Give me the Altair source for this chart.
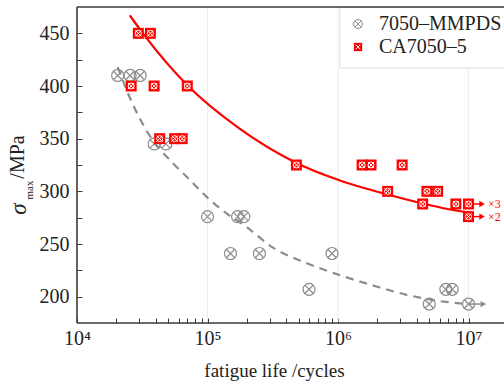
import altair as alt
import pandas as pd

# ---------------- data ----------------
gray_N = [2.05e4, 2.55e4, 3.05e4, 3.9e4, 4.8e4, 1.0e5, 1.5e5, 1.7e5, 1.9e5, 2.5e5,
          6.0e5, 9.0e5, 5.0e6, 6.7e6, 7.5e6, 1.0e7]
gray_S = [410, 410, 410, 345, 345, 276, 241, 276, 276, 241, 207, 241, 193, 207, 207, 193]

red_N = [2.95e4, 3.65e4, 2.6e4, 3.9e4, 7.0e4, 4.3e4, 5.6e4, 6.4e4, 4.8e5, 1.53e6,
         1.79e6, 3.1e6, 2.4e6, 4.8e6, 5.8e6, 4.45e6, 8.0e6, 1.0e7, 1.0e7]
red_S = [450, 450, 400, 400, 400, 350, 350, 350, 325, 325, 325, 325, 300, 300, 300,
         288, 288, 288, 276]

red_fit_N = [2.54e4, 3.2e4, 7.1e4, 1.74e5, 4.8e5, 1.0e6, 2.4e6, 7.1e6, 1.0e7]
red_fit_S = [467, 450, 400, 360, 327, 311, 297, 283, 280]

gray_fit_N = [2.05e4, 2.54e4, 3.6e4, 5.4e4, 7.3e4, 9.8e4, 1.3e5, 2.0e5, 3.13e5, 5.7e5,
              1.0e6, 2.06e6, 3.3e6, 6.7e6, 1.0e7]
gray_fit_S = [418, 389, 353, 327, 311, 295, 282, 266, 247, 232, 221, 209, 202, 195, 193]

runout_N = [1.0e7, 1.0e7]
runout_end_N = [1.27e7, 1.27e7]
runout_S = [288, 276]
runout_label = ["×3", "×2"]

gray_runout_N = [1.0e7]
gray_runout_end_N = [1.3e7]
gray_runout_S = [193]

series = ["7050–MMPDS", "CA7050–5"]

x_ticks = [v * 10 ** e for e in (4, 5, 6) for v in range(1, 10)] + [1e7]
x_tick_labels = {1e4: "10⁴", 1e5: "10⁵", 1e6: "10⁶", 1e7: "10⁷"}
y_ticks = [200, 225, 250, 275, 300, 325, 350, 375, 400, 425, 450]
decades = [1e5, 1e6, 1e7]

# ---------------- styling ----------------
W, H = 427, 316
FONT = "Liberation Serif"
RED = "#ff0000"
GRAY = "#8c8c8c"
AX = "#3a3a3a"
XPATH = "M-0.707,-0.707L0.707,0.707M-0.707,0.707L0.707,-0.707"
XPATH_S = "M-0.55,-0.55L0.55,0.55M-0.55,0.55L0.55,-0.55"

label_expr = " : ".join(
    f"datum.value == {int(k)} ? '{v}'" for k, v in x_tick_labels.items()
) + " : ''"

x_axis = alt.Axis(
    values=x_ticks, labelExpr=label_expr, domain=False, grid=False,
    tickSize=5, offset=-5, tickColor=AX, tickWidth=1,
    labelFont=FONT, labelFontSize=20, labelColor="#222", labelPadding=5,
    labelFlush=False, labelOverlap=False, labelBound=False,
    title="fatigue life /cycles", titleFont=FONT, titleFontSize=19,
    titleFontWeight="normal", titleColor="#222", titleX=197, titleY=58,
    titleBaseline="alphabetic", titleAnchor="middle",
)
y_axis = alt.Axis(
    values=y_ticks, labelExpr="datum.value % 50 == 0 ? datum.value : ''",
    domain=False, grid=False, tickSize=5, offset=-5, tickColor=AX, tickWidth=1,
    labelFont=FONT, labelFontSize=20, labelColor="#222", labelPadding=8,
    labelFlush=False, labelOverlap=False, title=None,
)

xs = alt.Scale(type="log", domain=[1e4, 1.87e7])
ys = alt.Scale(domain=[175, 475])
X = alt.X("N:Q", scale=xs, axis=x_axis)
Y = alt.Y("S:Q", scale=ys, axis=y_axis)

gray_df = pd.DataFrame({"N": gray_N, "S": gray_S})
red_df = pd.DataFrame({"N": red_N, "S": red_S})
red_fit = pd.DataFrame({"N": red_fit_N, "S": red_fit_S})
gray_fit = pd.DataFrame({"N": gray_fit_N, "S": gray_fit_S})
run_df = pd.DataFrame({"N": runout_N, "N2": runout_end_N, "S": runout_S, "lab": runout_label})
grun_df = pd.DataFrame({"N": gray_runout_N, "N2": gray_runout_end_N, "S": gray_runout_S})
dec_df = pd.DataFrame({"N": decades})
one = pd.DataFrame({"k": [0]})

layers = []

# gridlines at decades
layers.append(alt.Chart(dec_df).mark_rule(color="#ececec", strokeWidth=1).encode(
    x=X, y=alt.value(0), y2=alt.value(H)))

# legend box
layers.append(alt.Chart(one).mark_rect(fill="white", stroke="#dcdcdc", strokeWidth=1).encode(
    x=alt.value(263), x2=alt.value(W + 5), y=alt.value(0), y2=alt.value(61)))

# fit curves
layers.append(alt.Chart(gray_fit).mark_line(
    color=GRAY, strokeWidth=2.2, strokeDash=[8, 6], interpolate="monotone").encode(x=X, y=Y))
layers.append(alt.Chart(red_fit).mark_line(
    color=RED, strokeWidth=2.2, interpolate="monotone").encode(x=X, y=Y))

# run-out arrows
layers.append(alt.Chart(grun_df).mark_rule(color=GRAY, strokeWidth=1.5).encode(
    x=X, x2="N2:Q", y=Y))
layers.append(alt.Chart(grun_df).mark_point(
    shape="triangle-right", filled=True, color=GRAY, size=40, opacity=1).encode(
    x=alt.X("N2:Q", scale=xs, axis=x_axis), y=Y))
layers.append(alt.Chart(run_df).mark_rule(color=RED, strokeWidth=1.5).encode(
    x=X, x2="N2:Q", y=Y))
layers.append(alt.Chart(run_df).mark_point(
    shape="triangle-right", filled=True, color=RED, size=40, opacity=1).encode(
    x=alt.X("N2:Q", scale=xs, axis=x_axis), y=Y))
layers.append(alt.Chart(run_df).mark_text(
    align="left", baseline="middle", dx=6, font=FONT, fontSize=12, color=RED).encode(
    x=alt.X("N2:Q", scale=xs, axis=x_axis), y=Y, text="lab:N"))

# gray markers: circle with X
layers.append(alt.Chart(gray_df).mark_point(
    shape="circle", filled=False, color=GRAY, strokeWidth=1.2, size=144, opacity=1).encode(x=X, y=Y))
layers.append(alt.Chart(gray_df).mark_point(
    shape=XPATH, filled=False, color=GRAY, strokeWidth=1.2, size=144, opacity=1).encode(x=X, y=Y))

# red markers: red square with white X and ring
layers.append(alt.Chart(red_df).mark_point(
    shape="square", filled=True, color=RED, size=121, opacity=1).encode(x=X, y=Y))
layers.append(alt.Chart(red_df).mark_point(
    shape=XPATH_S, filled=False, color="white", strokeWidth=1, size=121, opacity=1).encode(x=X, y=Y))
layers.append(alt.Chart(red_df).mark_point(
    shape="circle", filled=False, color="white", strokeWidth=1, size=36, opacity=1).encode(x=X, y=Y))

# frame lines
layers.append(alt.Chart(one).mark_rule(color=AX, strokeWidth=1.6).encode(
    x=alt.value(0), y=alt.value(0), y2=alt.value(H)))
layers.append(alt.Chart(one).mark_rule(color=AX, strokeWidth=1.6).encode(
    x=alt.value(0), x2=alt.value(W + 5), y=alt.value(H)))
layers.append(alt.Chart(one).mark_rule(color=AX, strokeWidth=1.6).encode(
    x=alt.value(0), x2=alt.value(W + 5), y=alt.value(0)))

# legend content
layers.append(alt.Chart(one).mark_point(
    shape="circle", filled=False, color=GRAY, strokeWidth=1, size=80, opacity=1).encode(
    x=alt.value(281), y=alt.value(17)))
layers.append(alt.Chart(one).mark_point(
    shape=XPATH, filled=False, color=GRAY, strokeWidth=1, size=80, opacity=1).encode(
    x=alt.value(281), y=alt.value(17)))
layers.append(alt.Chart(one).mark_point(
    shape="square", filled=True, color=RED, size=70, opacity=1).encode(
    x=alt.value(281), y=alt.value(40)))
layers.append(alt.Chart(one).mark_point(
    shape=XPATH_S, filled=False, color="white", strokeWidth=1, size=70, opacity=1).encode(
    x=alt.value(281), y=alt.value(40)))
for i, yy in enumerate([23, 46]):
    layers.append(alt.Chart(one).mark_text(
        align="left", baseline="alphabetic", font=FONT, fontSize=20, color="#222").encode(
        x=alt.value(302), y=alt.value(yy), text=alt.value(series[i])))

# y-axis title: sigma_max /MPa
layers.append(alt.Chart(one).mark_text(
    angle=270, align="center", baseline="alphabetic", font=FONT, fontSize=23,
    fontStyle="italic", color="#222").encode(
    x=alt.value(-51), y=alt.value(202), text=alt.value("σ")))
layers.append(alt.Chart(one).mark_text(
    angle=270, align="center", baseline="alphabetic", font=FONT, fontSize=11,
    color="#222").encode(
    x=alt.value(-44), y=alt.value(183), text=alt.value("max")))
layers.append(alt.Chart(one).mark_text(
    angle=270, align="center", baseline="alphabetic", font=FONT, fontSize=20,
    color="#222").encode(
    x=alt.value(-53), y=alt.value(150), text=alt.value("/MPa")))

chart = alt.layer(*layers).properties(
    width=W, height=H,
    autosize=alt.AutoSizeParams(type="none"),
    padding={"left": 77, "top": 7, "right": 0, "bottom": 58},
    background="white",
).configure_view(stroke=None)

chart.save("out.html", embed_options={"renderer": "svg", "actions": False})
